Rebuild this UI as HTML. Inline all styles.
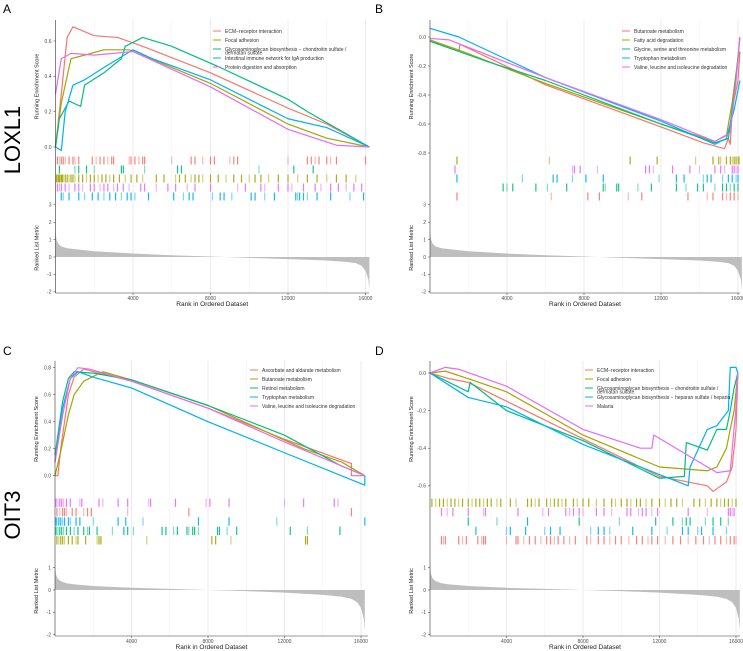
<!DOCTYPE html>
<html><head><meta charset="utf-8">
<style>
html,body{margin:0;padding:0;background:#fff;}
svg{display:block;font-family:"Liberation Sans",sans-serif;}
</style></head>
<body>
<svg id="fig" width="743" height="651" viewBox="0 0 743 651">
<text x="3" y="13" font-size="12">A</text>
<text x="375" y="13" font-size="12">B</text>
<text x="3" y="355" font-size="12">C</text>
<text x="375" y="355" font-size="12">D</text>
<text transform="translate(20,140) rotate(-90)" font-size="22" text-anchor="middle">LOXL1</text>
<text transform="translate(20,515) rotate(-90)" font-size="22" text-anchor="middle">OIT3</text>
</svg>
<script>
const COLORS = ["#F8766D","#A3A500","#00BF7D","#00B0F6","#E76BF3"];
// ---- data ----
const aNames = ["ECM−receptor interaction","Focal adhesion","Glycosaminoglycan biosynthesis − chondroitin sulfate / dermatan sulfate","Intestinal immune network for IgA production","Protein digestion and absorption"];
const aRanks = [
 [0,300,600,900,2000,3200,4500,8000,12000,14000,16200],
 [0,300,800,1500,2500,3800,8000,12000,14000,16200],
 [0,200,700,1300,1500,2500,3400,3600,4500,6000,8500,12000,13000,16200],
 [0,300,500,900,1500,2500,4000,5000,8000,12000,14000,16200],
 [0,300,800,2000,4000,8000,12000,14500,16200]];
const aES = [
 [0,0.3,0.62,0.68,0.63,0.62,0.57,0.42,0.22,0.13,0],
 [0,0.25,0.5,0.52,0.55,0.55,0.36,0.13,0.05,0],
 [0,0.16,0.26,0.23,0.35,0.42,0.5,0.57,0.62,0.57,0.45,0.27,0.2,0],
 [0,-0.02,0.2,0.35,0.38,0.45,0.55,0.5,0.38,0.16,0.11,0],
 [0.3,0.5,0.53,0.52,0.54,0.34,0.1,0.01,0]];
// rug rows listed top to bottom; rugOrder gives the series (colour) of each row
const aRugOrder = [0,2,1,4,3];
const aRug = [
 [100,200,300,400,500,700,900,1000,1200,1900,2100,2300,2500,2700,2900,3000,3800,3900,4100,4300,4500,4600,6000,7000,7200,7600,8000,8200,9000,9200,9400,12000,13000,13200,13400,13600,14000,14200,14500,16000],
 [200,1000,1200,1600,2000,3400,3500,4600,6300,6500,10500,12300,13300],
 [50,100,150,200,250,300,350,400,500,600,700,800,900,1000,1200,1400,1600,1800,2000,2200,2400,2600,2800,3000,3300,3600,3900,4200,4500,5200,5600,6200,6400,6700,7000,7200,7400,7600,8000,8400,8800,9200,9600,10000,10300,10600,11000,11500,12000,12500,13000,13500,14000,14500,15000,15500],
 [100,200,300,500,700,1000,1200,1400,1800,2000,2300,2500,2700,3000,3200,3500,3800,4400,4600,5200,5800,6200,6800,7200,8000,9400,9800,10600,10800,11500,12000,12200,12800,13400,13700,14200,14600,15000,15400,15800],
 [300,400,700,1200,1500,1900,2200,2500,2800,3100,3400,3700,3900,4100,4800,6100,6600,6900,7100,8100,8500,8700,9100,10100,10300,10800,11300,12400,12500,12600,12800,13000,13500,14200,15200,15900]];

const bNames = ["Butanoate metabolism","Fatty acid degradation","Glycine, serine and threonine metabolism","Tryptophan metabolism","Valine, leucine and isoleucine degradation"];
const bRanks = [
 [0,1500,1550,6000,12000,14200,15300,15500,15600,15700,16000,16100],
 [0,1500,6000,12000,14800,15400,15700,16000,16100],
 [0,3000,6000,12000,14800,15500,15800,16100],
 [0,1500,6000,12000,14800,15400,15800,16100],
 [0,1000,6000,12000,14800,15600,15900,16100]];
const bES = [
 [-0.02,-0.1,-0.05,-0.33,-0.62,-0.73,-0.77,-0.7,-0.74,-0.5,-0.3,-0.1],
 [-0.02,-0.09,-0.32,-0.6,-0.72,-0.68,-0.45,-0.15,-0.1],
 [-0.03,-0.17,-0.3,-0.6,-0.73,-0.7,-0.4,0],
 [0.06,0,-0.28,-0.58,-0.74,-0.7,-0.5,-0.3],
 [-0.01,-0.02,-0.28,-0.57,-0.72,-0.66,-0.3,0]];
const bRugOrder = [1,4,3,2,0];
const bRug = [
 [1400,6200,10400,11800,13800,14700,15000,15100,15400,15600,15700,15800,15900,16000,16050],
 [1300,7400,7500,7800,8700,11200,11400,11600,12600,13500,14000,14800,15100,15300,15700,15800,15900,16000],
 [1400,4800,6400,6600,7400,8100,9000,11900,12800,13200,14200,14400,14600,15200,15500,15700,15900,16000],
 [3800,4000,4300,5500,6100,7100,9000,9100,9700,9800,10800,11500,12800,13300,13900,14200,14800,15200,15400,15600,15800,16000],
 [1400,6300,8200,8800,10300,11000,13400,14400,14700,15200,15400,15600,15800,16000]];

const cNames = ["Ascorbate and aldarate metabolism","Butanoate metabolism","Retinol metabolism","Tryptophan metabolism","Valine, leucine and isoleucine degradation"];
const cRanks = [
 [0,150,300,700,1000,1500,4000,8000,12000,15500,15500,16200],
 [0,300,700,1000,1500,2500,4000,8000,13000,15000,16200],
 [0,400,700,1000,2000,4000,8000,12000,15000,16200],
 [0,400,800,1200,2000,4000,8000,12000,16200,16200],
 [0,400,800,1200,1800,4000,8000,12000,16200]];
const cES = [
 [0,0,0.2,0.6,0.73,0.79,0.7,0.5,0.27,0.09,0,0],
 [0,0.18,0.45,0.6,0.7,0.77,0.71,0.52,0.2,0.1,0],
 [0.15,0.55,0.72,0.77,0.76,0.71,0.52,0.3,0.07,0],
 [0.1,0.5,0.72,0.77,0.73,0.65,0.4,0.17,-0.07,0],
 [0.1,0.45,0.72,0.8,0.79,0.7,0.5,0.25,0]];
const cRugOrder = [4,0,3,2,1];
const cRug = [
 [50,150,250,350,450,600,800,1300,1400,2300,2500,3300,3800,4900,5000,6300,7900,8100,9100,12000,13000,14600,14800],
 [100,250,400,500,600,900,1100,1500,1700,1900,3800,7000,15500],
 [50,100,200,300,400,500,700,800,1100,1300,2000,3300,3700,4600,7500,9100,11600,16200],
 [50,150,250,350,450,600,800,1000,1200,1500,1700,1800,2200,3000,3600,3800,4100,5600,5800,6200,6400,6900,7000,7200,7300,7500,8500,8600,9000,9500,12300,13200,14900],
 [100,200,300,400,500,700,900,1100,1200,1600,2200,2300,2400,4800,8200,8400,9200,13100,13200]];

const dNames = ["ECM−receptor interaction","Focal adhesion","Glycosaminoglycan biosynthesis − chondroitin sulfate / dermatan sulfate","Glycosaminoglycan biosynthesis − heparan sulfate / heparin","Malaria"];
const dRanks = [
 [0,1000,2000,4000,8000,12000,14500,14800,15500,15800,16000,16100],
 [0,800,2000,4000,8000,12000,14500,15000,15500,15900,16100],
 [0,2000,2100,4000,8000,12000,13300,13400,14500,15000,15500,15700,15900,16100],
 [0,2000,4000,8000,13500,13600,14500,15000,15600,15700,16000,16100],
 [0,800,1500,4000,8000,11000,11600,11700,15000,15700,16000,16100]];
const dES = [
 [0,-0.03,-0.05,-0.15,-0.35,-0.55,-0.6,-0.63,-0.58,-0.5,-0.3,0],
 [0,0.01,-0.03,-0.1,-0.33,-0.5,-0.52,-0.5,-0.4,-0.2,0],
 [0,-0.1,-0.05,-0.2,-0.36,-0.56,-0.55,-0.37,-0.41,-0.3,-0.3,-0.2,-0.08,0],
 [0,-0.13,-0.18,-0.38,-0.6,-0.5,-0.3,-0.28,-0.2,0.03,0.03,0],
 [0,0.03,0.02,-0.07,-0.3,-0.4,-0.4,-0.33,-0.53,-0.52,-0.18,0]];
const dRugOrder = [1,4,2,3,0];
const dRug = [
 [100,300,500,700,900,1100,1300,1500,1700,2000,2200,2400,2600,2800,3000,3200,3500,3700,4200,4500,5100,5300,5500,5700,6100,6300,6500,6700,6900,7100,7500,7700,8000,8300,8700,9100,9500,9700,10000,10300,10500,10800,11000,11300,11600,12000,12300,12600,12900,13200,13800,14100,14400,14700,15000,15200,15400,15600,15800,16000],
 [600,900,1200,2000,2800,2900,4600,5900,6200,7100,7300,7500,7800,8000,8700,9100,9500,10300,10500,10900,11100,11300,11600,11900,13500,14500,15600,15700,15800,15900],
 [2000,3500,5100,7800,9900,11800,12700,13200,13400,13600,14400,14800,15200,15600],
 [2400,4000,4200,5000,6000,6300,6800,8400,8800,9100,9400,10600,11600,12400,13200,13500,14000,14200,14800,15500],
 [600,700,800,1500,1700,1900,2500,2700,2800,2900,4000,4500,4600,4900,5200,5500,5800,6100,6300,6500,6700,7000,7300,7600,8200,8400,8800,9100,9400,9700,10000,10400,10800,11100,11400,11600,11900,12300,12700,13100,13500,13900,14300,14600,14900,15200,15500,15700,15900,16000]];

const metricRanks = [0,50,150,300,600,1000,2000,4000,6000,8000,10000,12000,14000,15000,15500,15800,16000,16150,16200];
const metricTop = [1.5,1.0,0.75,0.6,0.5,0.45,0.33,0.2,0.1,0.03,-0.05,-0.12,-0.2,-0.28,-0.35,-0.5,-0.8,-1.3,-1.9];
const metricBottom = [1.1,0.7,0.5,0.4,0.3,0.25,0.18,0.1,0.05,0,-0.05,-0.12,-0.22,-0.3,-0.4,-0.55,-0.8,-1.3,-1.8];
const xTickLabels = [4000,8000,12000,16000];

// ---- drawing ----
const NS = "http://www.w3.org/2000/svg";
const svg = document.getElementById('fig');
function mk(tag, attrs, parent){ const e=document.createElementNS(NS,tag); for(const k in attrs) e.setAttribute(k,attrs[k]); (parent||svg).appendChild(e); return e; }

function drawPanel(cfg){
  const g = mk('g',{});
  
  
  const xs = r => cfg.x0 + r*cfg.xpx/4000;
  const ys = v => cfg.es0 - v*cfg.espx;
  const ym = v => cfg.m0 - v*cfg.mpx;
  const xEnd = cfg.x1;
  for(let r=2000;r<=16000;r+=2000){
    const gl = mk('line',{x1:xs(r),x2:xs(r),y1:cfg.top,y2:cfg.bot,stroke: r%4000===0?'#e6e6e6':'#f2f2f2','stroke-width':r%4000===0?0.8:0.5},g);
    
    
  }
  cfg.esTicks.forEach(t=>{
    const tx = mk('text',{x:cfg.x0-4,y:ys(t)+1.8,'font-size':5,'text-anchor':'end',fill:'#4d4d4d'},g);
    tx.textContent = t.toFixed(1);
    
    
    mk('line',{x1:cfg.x0-2,x2:cfg.x0,y1:ys(t),y2:ys(t),stroke:'#333','stroke-width':0.5},g);
  });
  const yt = mk('text',{transform:`translate(${cfg.x0-17},${(cfg.top+cfg.esBot)/2}) rotate(-90)`,'font-size':5.5,'text-anchor':'middle',fill:'#222'},g);
  yt.textContent='Running Enrichment Score';
  
  
  let d = `M${xs(metricRanks[0])},${ym(0)}`;
  cfg.metric.forEach((v,i)=>{ d += ` L${xs(metricRanks[i])},${ym(v)}`; });
  d += ` L${xs(metricRanks[metricRanks.length-1])},${ym(0)} Z`;
  const area = mk('path',{d,fill:'#bebebe',stroke:'none'},g);
  
  
  cfg.mTicks.forEach(t=>{
    const tx = mk('text',{x:cfg.x0-4,y:ym(t)+1.8,'font-size':5,'text-anchor':'end',fill:'#4d4d4d'},g);
    tx.textContent = t;
    
    
    mk('line',{x1:cfg.x0-2,x2:cfg.x0,y1:ym(t),y2:ym(t),stroke:'#333','stroke-width':0.5},g);
  });
  const mt = mk('text',{transform:`translate(${cfg.x0-17},${(cfg.mTop+cfg.bot)/2}) rotate(-90)`,'font-size':5.5,'text-anchor':'middle',fill:'#222'},g);
  mt.textContent='Ranked List Metric';
  
  
  const rowH = (cfg.rugBot-cfg.rugTop)/5;
  cfg.rugOrder.forEach((si,row)=>{
    cfg.rug[row].forEach((r,j)=>{
      const ln = mk('line',{x1:xs(r),x2:xs(r),y1:cfg.rugTop+row*rowH+0.5,y2:cfg.rugTop+(row+1)*rowH-0.5,stroke:COLORS[si],'stroke-width':1.2,'stroke-opacity':(j%3===1?0.5:0.9)},g);
      
      
    });
  });
  cfg.ranks.forEach((rk,si)=>{
    const pts = rk.map((r,i)=>`${xs(r)},${ys(cfg.es[si][i])}`).join(' ');
    const pl = mk('polyline',{points:pts,fill:'none',stroke:COLORS[si],'stroke-width':1.2,'stroke-linejoin':'round'},g);
    
    
  });
  mk('line',{x1:cfg.x0,x2:cfg.x0,y1:cfg.top,y2:cfg.bot,stroke:'#333','stroke-width':0.6},g);
  mk('line',{x1:cfg.x0,x2:xEnd,y1:cfg.bot,y2:cfg.bot,stroke:'#333','stroke-width':0.6},g);
  xTickLabels.forEach(t=>{
    mk('line',{x1:xs(t),x2:xs(t),y1:cfg.bot,y2:cfg.bot+2,stroke:'#333','stroke-width':0.5},g);
    const tx = mk('text',{x:xs(t),y:cfg.bot+7,'font-size':5,'text-anchor':'middle',fill:'#4d4d4d'},g);
    tx.textContent = t;
    
    
  });
  const xt = mk('text',{x:(cfg.x0+xEnd)/2,y:cfg.bot+13,'font-size':6.5,'text-anchor':'middle',fill:'#222'},g);
  xt.textContent='Rank in Ordered Dataset';
  
  
  cfg.names.forEach((n,i)=>{
    const yy = cfg.ly + i*9;
    mk('line',{x1:cfg.lx,x2:cfg.lx+8,y1:yy,y2:yy,stroke:COLORS[i],'stroke-width':1},g);
    const tx = mk('text',{x:cfg.lx+12,y:yy+1.8,'font-size':5,fill:'#333'},g);
    if(cfg.wrap && i===2){
      const parts = n.split(' / ');
      tx.textContent = parts[0]+' /';
      const t2 = mk('text',{x:cfg.lx+12,y:yy+5.5,'font-size':5,fill:'#333'},g);
      t2.textContent = parts[1];
      
      
    } else tx.textContent = n;
    
    
  });
}

drawPanel({id:'panel-a',x0:55.5,xpx:77.5,x1:369,top:20,esBot:153,bot:293,es0:147,espx:176.7,esTicks:[0,0.2,0.4,0.6],
  rugTop:156,rugBot:201,mTop:203,m0:257,mpx:17.4,mTicks:[3,2,1,0,-1,-2],metric:metricTop,
  ranks:aRanks,es:aES,rug:aRug,rugOrder:aRugOrder,names:aNames,lx:213,ly:31,wrap:true});
drawPanel({id:'panel-b',x0:430,xpx:77,x1:740,top:20,esBot:153,bot:293,es0:37,espx:145,esTicks:[0,-0.2,-0.4,-0.6,-0.8],
  rugTop:156,rugBot:201,mTop:203,m0:257,mpx:17.4,mTicks:[3,2,1,0,-1,-2],metric:metricTop,
  ranks:bRanks,es:bES,rug:bRug,rugOrder:bRugOrder,names:bNames,lx:622,ly:31,wrap:false});
drawPanel({id:'panel-c',x0:55,xpx:76.5,x1:368,top:361,esBot:497,bot:636,es0:475.7,espx:135,esTicks:[0,0.2,0.4,0.6,0.8],
  rugTop:498,rugBot:545,mTop:546,m0:590,mpx:22.3,mTicks:[1,0,-1,-2],metric:metricBottom,
  ranks:cRanks,es:cES,rug:cRug,rugOrder:cRugOrder,names:cNames,lx:250,ly:370,wrap:false});
drawPanel({id:'panel-d',x0:430,xpx:76.5,x1:740,top:361,esBot:497,bot:636,es0:373,espx:188,esTicks:[0,-0.2,-0.4,-0.6],
  rugTop:498,rugBot:545,mTop:546,m0:590,mpx:22.3,mTicks:[1,0,-1,-2],metric:metricBottom,
  ranks:dRanks,es:dES,rug:dRug,rugOrder:dRugOrder,names:dNames,lx:585,ly:370,wrap:true});
</script>
</body></html>
